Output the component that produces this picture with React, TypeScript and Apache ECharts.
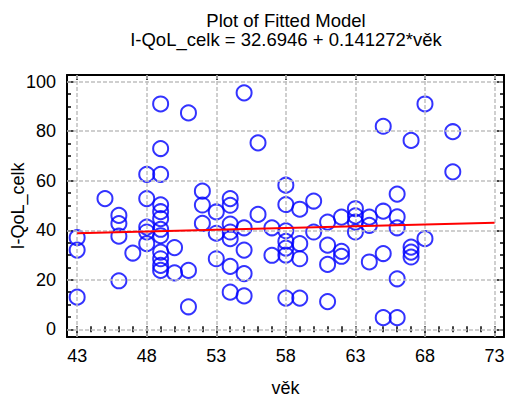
import { useEffect, useRef } from "react";
import * as echarts from "echarts";

const TITLE = "Plot of Fitted Model";
const SUBTITLE = "I-QoL_celk = 32.6946 + 0.141272*věk";
const X_NAME = "věk";
const Y_NAME = "I-QoL_celk";

const INTERCEPT = 32.6946;
const SLOPE = 0.141272;
const FIT_RANGE = [43, 73];

const X_TICKS = [43, 48, 53, 58, 63, 68, 73];
const Y_TICKS = [0, 20, 40, 60, 80, 100];
const X_MINOR = [43, 44, 45, 46, 47, 48, 49, 50, 51, 52, 53, 54, 55, 56, 57, 58, 59, 60, 61, 62, 63, 64, 65, 66, 67, 68, 69, 70, 71, 72, 73];
const Y_MINOR = [0, 5, 10, 15, 20, 25, 30, 35, 40, 45, 50, 55, 60, 65, 70, 75, 80, 85, 90, 95, 100];

const X_MIN = 42.27;
const X_MAX = 73.68;
const Y_MIN = -3.1;
const Y_MAX = 102.7;

// věk (age) of each observation
const AGE = [
  43, 43, 43,
  45,
  46, 46, 46, 46,
  47,
  48, 48, 48, 48, 48,
  49, 49, 49, 49, 49, 49, 49, 49, 49, 49, 49, 49,
  50, 50,
  51, 51, 51,
  52, 52, 52,
  53, 53, 53,
  54, 54, 54, 54, 54, 54, 54,
  55, 55, 55, 55, 55,
  56, 56,
  57, 57,
  58, 58, 58, 58, 58, 58, 58,
  59, 59, 59, 59,
  60, 60,
  61, 61, 61, 61,
  62, 62, 62,
  63, 63, 63, 63,
  64, 64, 64,
  65, 65, 65, 65,
  66, 66, 66, 66, 66,
  67, 67, 67, 67,
  68, 68,
  70, 70,
];

// I-QoL_celk of each observation
const IQOL = [
  37, 32, 13,
  52.8,
  46, 42.7, 37.6, 19.6,
  30.8,
  62.6, 52.8, 41.3, 39.3, 34.6,
  91, 73, 62.6, 50.3, 47.5, 44.7, 40.4, 37.8, 31.2, 28.5, 25.8, 23.8,
  33, 22.8,
  87.4, 23.8, 9.1,
  55.8, 50.2, 42.8,
  47.4, 38.8, 28.5,
  52.8, 50.1, 42.5, 39.3, 36.6, 25.4, 15,
  95.5, 41, 32, 22.5, 13.5,
  75.3, 46.4,
  41, 29.9,
  58.2, 50.4, 39.8, 35.5, 32.8, 30, 12.6,
  48.5, 34.6, 28.5, 12.6,
  51.8, 39.3,
  43.3, 34, 26.2, 11.2,
  45.3, 31.5, 29.5,
  48.7, 45.8, 43.3, 39.3,
  45.3, 42, 27.2,
  82, 47.7, 30.6, 4.7,
  54.6, 45.4, 41, 20.4, 4.7,
  76.3, 33.2, 31.2, 29.2,
  91, 36.6,
  79.8, 63.6,
];

const FONT = "'Liberation Sans', Arial, sans-serif";

export default function App() {
  const ref = useRef<HTMLDivElement>(null);

  useEffect(() => {
    if (!ref.current) return;
    const chart = echarts.init(ref.current, undefined, { renderer: "svg" });

    const axisLine = { show: true, onZero: false, lineStyle: { color: "#000", width: 2 } };
    const noLine = { show: false };
    const tickStyle = { color: "#000", width: 1.5 };

    const xBase = { type: "value", min: X_MIN, max: X_MAX, splitLine: { show: false } };
    const yBase = { type: "value", min: Y_MIN, max: Y_MAX, splitLine: { show: false } };

    const points = AGE.map((a, i) => [a, IQOL[i]]);
    const fit = FIT_RANGE.map((x) => [x, INTERCEPT + SLOPE * x]);

    chart.setOption({
      animation: false,
      backgroundColor: "#fff",
      textStyle: { fontFamily: FONT },
      grid: { left: 67, right: 1, top: 75, bottom: 61, outerBoundsMode: "none", containLabel: false },
      graphic: [
        {
          type: "text",
          x: 286,
          y: 20,
          style: { text: TITLE, fill: "#000", font: `18.5px ${FONT}`, textAlign: "center", textVerticalAlign: "middle" },
        },
        {
          type: "text",
          x: 286,
          y: 39.5,
          style: { text: SUBTITLE, fill: "#000", font: `18.5px ${FONT}`, textAlign: "center", textVerticalAlign: "middle" },
        },
      ],
      xAxis: [
        {
          ...xBase,
          position: "bottom",
          axisLine,
          axisTick: { show: true, inside: true, length: 5, customValues: X_TICKS, lineStyle: tickStyle },
          axisLabel: { show: true, customValues: X_TICKS, margin: 10, fontSize: 18, fontFamily: FONT, color: "#000" },
          name: X_NAME,
          nameLocation: "middle",
          nameGap: 42,
          nameMoveOverlap: false,
          nameTextStyle: { fontSize: 18, fontFamily: FONT, color: "#000" },
        },
        {
          ...xBase,
          position: "bottom",
          axisLine: noLine,
          axisLabel: { show: false },
          axisTick: { show: true, inside: true, length: 3, customValues: X_MINOR, lineStyle: tickStyle },
        },
        {
          ...xBase,
          position: "top",
          axisLine,
          axisLabel: { show: false },
          axisTick: { show: true, inside: true, length: 5, customValues: X_TICKS, lineStyle: tickStyle },
        },
        {
          ...xBase,
          position: "top",
          axisLine: noLine,
          axisLabel: { show: false },
          axisTick: { show: true, inside: true, length: 3, customValues: X_MINOR, lineStyle: tickStyle },
        },
      ],
      yAxis: [
        {
          ...yBase,
          position: "left",
          axisLine,
          axisTick: { show: true, inside: true, length: 7, customValues: Y_TICKS, lineStyle: tickStyle },
          axisLabel: { show: true, customValues: Y_TICKS, margin: 11, fontSize: 18, fontFamily: FONT, color: "#000" },
          name: Y_NAME,
          nameLocation: "middle",
          nameGap: 40,
          nameMoveOverlap: false,
          nameTextStyle: { fontSize: 18, fontFamily: FONT, color: "#000" },
        },
        {
          ...yBase,
          position: "left",
          axisLine: noLine,
          axisLabel: { show: false },
          axisTick: { show: true, inside: true, length: 4, customValues: Y_MINOR, lineStyle: tickStyle },
        },
        {
          ...yBase,
          position: "right",
          axisLine,
          axisLabel: { show: false },
          axisTick: { show: true, inside: true, length: 7, customValues: Y_TICKS, lineStyle: tickStyle },
        },
        {
          ...yBase,
          position: "right",
          axisLine: noLine,
          axisLabel: { show: false },
          axisTick: { show: true, inside: true, length: 4, customValues: Y_MINOR, lineStyle: tickStyle },
        },
      ],
      series: [
        {
          type: "scatter",
          xAxisIndex: 0,
          yAxisIndex: 0,
          data: points,
          symbol: "circle",
          symbolSize: 15,
          itemStyle: { color: "rgba(0,0,0,0)", borderColor: "#0000ff", borderWidth: 2 },
          emphasis: { disabled: true },
          markLine: {
            silent: true,
            symbol: ["none", "none"],
            label: { show: false },
            lineStyle: { color: "#c0c0c0", type: [4, 2], width: 1.5 },
            emphasis: { disabled: true },
            data: [
              ...X_TICKS.map((v) => ({ xAxis: v })),
              ...Y_TICKS.map((v) => ({ yAxis: v })),
            ],
          },
        },
        {
          type: "line",
          xAxisIndex: 0,
          yAxisIndex: 0,
          data: fit,
          symbol: "none",
          lineStyle: { color: "#ff0000", width: 2 },
          emphasis: { disabled: true },
          z: 5,
        },
      ],
    });

    return () => chart.dispose();
  }, []);

  return (
    <div
      ref={ref}
      style={{ position: "absolute", left: 0, top: 0, width: 505, height: 398 }}
    />
  );
}
